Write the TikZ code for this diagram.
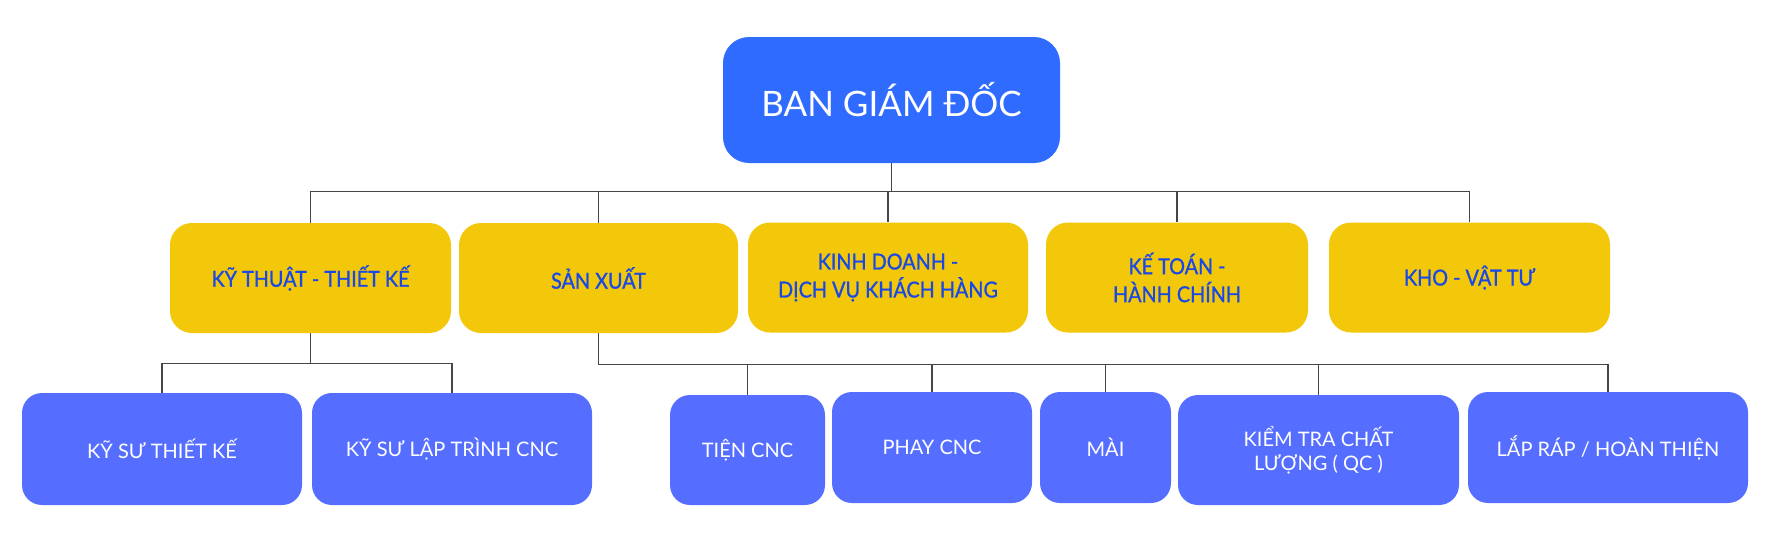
\documentclass[tikz,border=0pt]{standalone}
\usepackage{fontspec}
\setmainfont{Lato}
\newfontfamily\deptfont[FakeStretch=0.9, FakeBold=1]{Lato}
\usepackage{tikz}

\definecolor{bossblue}{RGB}{48,107,255}
\definecolor{deptyellow}{RGB}{244,200,10}
\definecolor{depttext}{RGB}{24,72,230}
\definecolor{teamblue}{RGB}{85,110,255}
\definecolor{linegray}{RGB}{70,70,70}

\begin{document}
\begin{tikzpicture}[x=1pt, y=-1pt,
                    boss/.style = {fill=bossblue, rounded corners=26pt, text=white, inner sep=0pt,
                                   font=\fontsize{35}{42}\selectfont, minimum width=337pt, minimum height=126pt},
                    dept/.style = {fill=deptyellow, rounded corners=22pt, text=depttext, inner sep=0pt, align=center,
                                   font=\deptfont\fontsize{22}{28}\selectfont, minimum height=110pt},
                    team/.style = {fill=teamblue, rounded corners=20pt, text=white, inner sep=0pt, align=center,
                                   font=\fontsize{20}{24}\selectfont},
                    link/.style = {draw=linegray, line width=1.2pt}]
        \useasboundingbox (0,0) rectangle (1767,546);
        \node[boss] (0) at (891.5,100) {BAN GIÁM ĐỐC};
        % phong ban
        \node[dept, minimum width=281pt] (1) at (310.5,278) {KỸ THUẬT - THIẾT KẾ};
        \node[dept, minimum width=279pt] (2) at (598.5,278) {SẢN XUẤT};
        \node[dept, minimum width=280pt] (3) at (888,277.5) {KINH DOANH -\\DỊCH VỤ KHÁCH HÀNG};
        \node[dept, minimum width=262pt] (4) at (1177,277.5) {KẾ TOÁN -\\HÀNH CHÍNH};
        \node[dept, minimum width=281pt] (5) at (1469.5,277.5) {KHO - VẬT TƯ};
        % to
        \node[team, minimum width=280pt, minimum height=112pt] (6) at (162,449) {KỸ SƯ THIẾT KẾ};
        \node[team, minimum width=280pt, minimum height=112pt] (7) at (452,449) {KỸ SƯ LẬP TRÌNH CNC};
        \node[team, minimum width=155pt, minimum height=110pt] (8) at (747.5,450) {TIỆN CNC};
        \node[team, minimum width=200pt, minimum height=111pt] (9) at (932,447.5) {PHAY CNC};
        \node[team, minimum width=131pt, minimum height=111pt] (10) at (1105.5,447.5) {MÀI};
        \node[team, minimum width=281pt, minimum height=110pt] (11) at (1318.5,450) {KIỂM TRA CHẤT\\LƯỢNG ( QC )};
        \node[team, minimum width=280pt, minimum height=111pt] (12) at (1608,447.5) {LẮP RÁP / HOÀN THIỆN};
        \draw[link] (0.south) -- ++(0,28) -| (1.north);
        \draw[link] (0.south) -- ++(0,28) -| (2.north);
        \draw[link] (0.south) -- ++(0,28) -| (3.north);
        \draw[link] (0.south) -- ++(0,28) -| (4.north);
        \draw[link] (0.south) -- ++(0,28) -| (5.north);
        \draw[link] (1.south) -- ++(0,30) -| (6.north);
        \draw[link] (1.south) -- ++(0,30) -| (7.north);
        \draw[link] (2.south) -- ++(0,31) -| (8.north);
        \draw[link] (2.south) -- ++(0,31) -| (9.north);
        \draw[link] (2.south) -- ++(0,31) -| (10.north);
        \draw[link] (2.south) -- ++(0,31) -| (11.north);
        \draw[link] (2.south) -- ++(0,31) -| (12.north);
    \end{tikzpicture}
\end{document}
